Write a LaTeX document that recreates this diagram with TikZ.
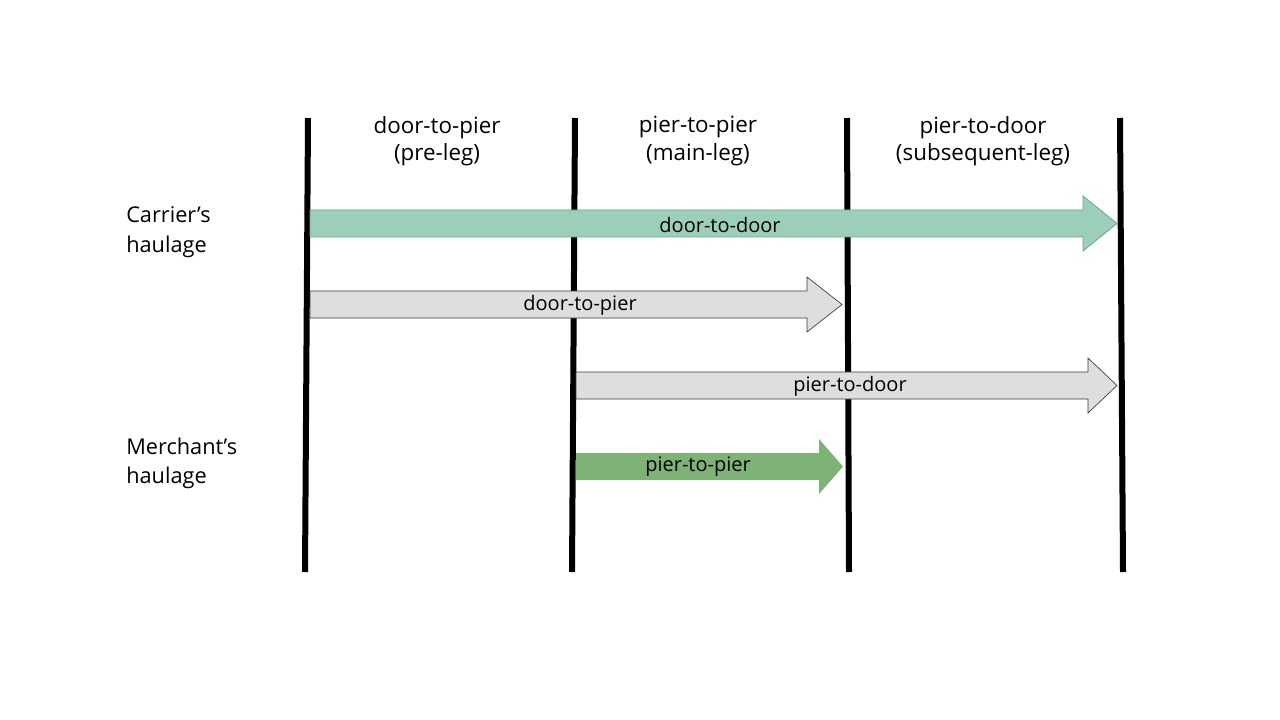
\documentclass[tikz,border=0pt]{standalone}
\usepackage{fontspec}
\setmainfont{Open Sans}
\usepackage{tikz}
\usetikzlibrary{positioning}
\definecolor{legline}{HTML}{000000}
\definecolor{tealfill}{HTML}{9CCFB8}
\definecolor{tealedge}{HTML}{6AA593}
\definecolor{greyfill}{HTML}{DEDEDE}
\definecolor{greyedge}{HTML}{3A3A3A}
\definecolor{greenfill}{HTML}{7FB276}
\tikzset{
  legbar/.style={line width=4.5pt,draw=legline},
  tealarrow/.style={fill=tealfill,draw=tealedge,line width=0.6pt},
  greyarrow/.style={fill=greyfill,draw=greyedge,line width=0.5pt},
  greenarrow/.style={fill=greenfill,draw=none},
  leghead/.style={align=center,font=\fontsize{16.8}{20.3}\selectfont,inner sep=0pt},
  sidelabel/.style={align=left,anchor=west,font=\fontsize{16.3}{22}\selectfont,inner sep=0pt},
  arrowlabel/.style={font=\fontsize{15}{17}\selectfont,inner sep=0pt}
}
% block arrow: style, x start, x head, x tip, y centre
\newcommand{\blockarrow}[5]{%
  \draw[#1] (#2,#5-13.5) -- (#3,#5-13.5) -- (#3,#5-27.5) -- (#4,#5)
    -- (#3,#5+27.5) -- (#3,#5+13.5) -- (#2,#5+13.5) -- cycle;}

\begin{document}
\begin{tikzpicture}[x=0.75pt,y=-0.75pt]
\useasboundingbox (0,0) rectangle (1280,720);
% leg boundaries
\coordinate (b1t) at (308,118); \coordinate (b1b) at (305,572);
\coordinate (b2t) at (575,118); \coordinate (b2b) at (572,572);
\coordinate (b3t) at (847,118); \coordinate (b3b) at (849,572);
\coordinate (b4t) at (1120,118); \coordinate (b4b) at (1123,572);
\foreach \i in {1,...,4} \draw[legbar] (b\i t) -- (b\i b);
% leg headings
\node[leghead] (pre) at (437,141) {door-to-pier\\(pre-leg)};
\node[leghead] (main) at (698,141) {pier-to-pier\\(main-leg)};
\node[leghead] (sub) at (983,141) {pier-to-door\\(subsequent-leg)};
% haulage labels
\node[sidelabel] (carrier) at (126,232) {Carrier’s\\haulage};
\node[sidelabel] (merchant) at (126,463.5) {Merchant’s\\haulage};
% arrows
\blockarrow{tealarrow}{310}{1083}{1117}{223.5}
\node[arrowlabel] (d2d) at (720,225) {door-to-door};
\blockarrow{greyarrow}{310}{807}{842}{304.5}
\node[arrowlabel] (d2p) at (580,305) {door-to-pier};
\blockarrow{greyarrow}{576}{1088}{1117}{385.5}
\node[arrowlabel] (p2d) at (850,386) {pier-to-door};
\blockarrow{greenarrow}{576}{819}{843}{466.5}
\node[arrowlabel] (p2p) at (698,467) {pier-to-pier};
\end{tikzpicture}
\end{document}
